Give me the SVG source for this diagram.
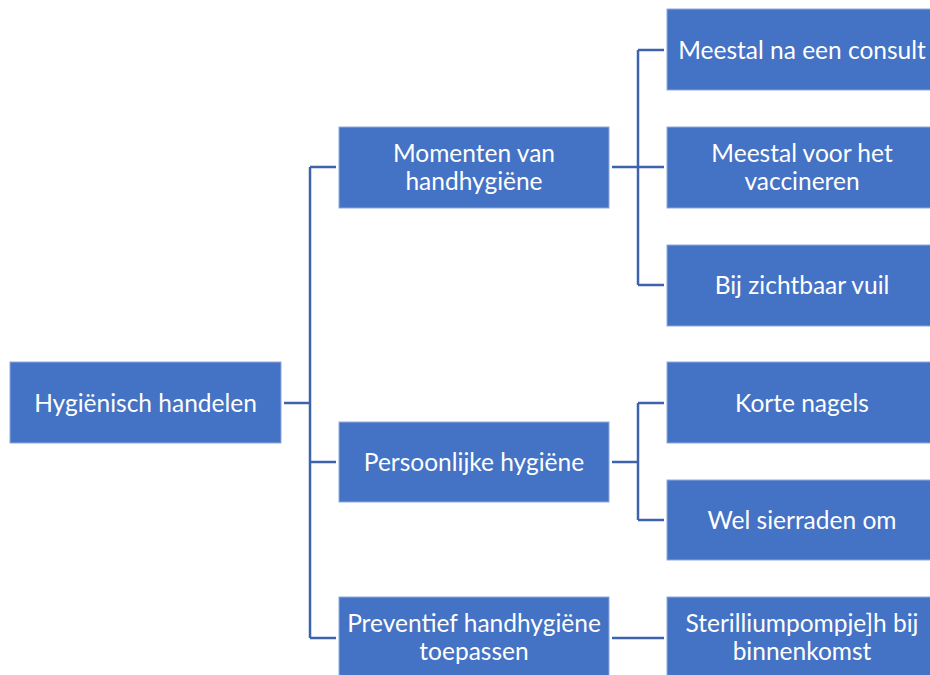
<svg xmlns="http://www.w3.org/2000/svg" width="930" height="675" viewBox="0 0 930 675">
<style>
.box{fill:#4472C4;stroke:#8FAADC;stroke-width:1}
.t{fill:#ffffff;font-family:Lato,"Open Sans","Liberation Sans",sans-serif;font-size:24.5px;text-anchor:middle}
.c{fill:none;stroke:#3E63AD;stroke-width:2.5}
</style>
<rect width="930" height="675" fill="#ffffff"/>
<g id="connectors">
<path class="c" d="M284 403H310M310 167V638M310 167H336M310 462H336M310 638H336"/>
<path class="c" d="M612 167H638M638 50V285M638 50H664M638 167H664M638 285H664"/>
<path class="c" d="M612 462H638M638 403V520M638 403H664M638 520H664"/>
<path class="c" d="M612 638H664"/>
</g>
<g id="n-root"><rect class="box" x="10" y="362" width="271" height="81"/><text class="t" x="145.5" y="411.5">Hygiënisch handelen</text></g>
<g id="n-momenten"><rect class="box" x="339" y="127" width="270" height="81"/><text class="t" x="474" y="162">Momenten van</text><text class="t" x="474" y="190">handhygiëne</text></g>
<g id="n-persoonlijk"><rect class="box" x="339" y="422" width="270" height="80"/><text class="t" x="474" y="470.5">Persoonlijke hygiëne</text></g>
<g id="n-preventief"><rect class="box" x="339" y="597" width="270" height="81"/><text class="t" x="474" y="632">Preventief handhygiëne</text><text class="t" x="474" y="660">toepassen</text></g>
<g id="n-consult"><rect class="box" x="667" y="9" width="264" height="81"/><text class="t" x="802" y="58.5">Meestal na een consult</text></g>
<g id="n-vaccineren"><rect class="box" x="667" y="127" width="264" height="81"/><text class="t" x="802" y="162">Meestal voor het</text><text class="t" x="802" y="190">vaccineren</text></g>
<g id="n-vuil"><rect class="box" x="667" y="245" width="264" height="81"/><text class="t" x="802" y="293.5">Bij zichtbaar vuil</text></g>
<g id="n-nagels"><rect class="box" x="667" y="362" width="264" height="81"/><text class="t" x="802" y="411.5">Korte nagels</text></g>
<g id="n-sierraden"><rect class="box" x="667" y="480" width="264" height="80"/><text class="t" x="802" y="528.5">Wel sierraden om</text></g>
<g id="n-sterillium"><rect class="box" x="667" y="597" width="264" height="81"/><text class="t" x="802" y="632">Sterilliumpompje]h bij</text><text class="t" x="802" y="660">binnenkomst</text></g>
</svg>
